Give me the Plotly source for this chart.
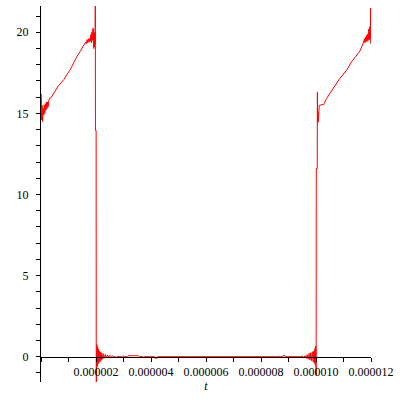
import plotly.graph_objects as go

# time in microseconds
seg1_t = [0.01, 0.02, 0.04, 0.06, 0.08, 0.10, 0.12, 0.14, 0.16, 0.18, 0.20, 0.22, 0.24, 0.26, 0.28, 0.30]
seg1_v = [16.2, 14.6, 15.5, 14.5, 15.3, 14.9, 15.5, 15.0, 15.6, 15.2, 15.7, 15.3, 15.7, 15.4, 15.75, 15.9]

rise1_t = [0.36, 0.63, 0.84, 0.93, 1.06, 1.18, 1.30, 1.42, 1.54, 1.60]
rise1_v = [15.95, 16.69, 17.10, 17.37, 17.68, 18.09, 18.50, 18.80, 19.15, 19.32]

noise1_t = [1.62, 1.65, 1.68, 1.70, 1.73, 1.75, 1.77, 1.79, 1.81, 1.83, 1.85, 1.87, 1.89, 1.90, 1.91, 1.92, 1.93, 1.94, 1.95, 1.96, 1.97]
noise1_v = [19.40, 19.30, 19.55, 19.35, 19.60, 19.40, 19.60, 19.45, 19.85, 19.35, 20.00, 19.50, 20.25, 19.60, 20.20, 19.00, 20.00, 19.10, 19.90, 19.30, 19.80]

drop1_t = [1.975, 1.98, 2.005, 2.01]
drop1_v = [22.5, 13.95, 13.95, -2.5]

ring1_t = [2.03, 2.045, 2.06, 2.075, 2.09, 2.11, 2.13, 2.15, 2.17, 2.19, 2.21, 2.24, 2.27, 2.30, 2.34, 2.38, 2.42, 2.46, 2.50, 2.55, 2.60, 2.66]
ring1_v = [0.75, -0.6, 0.6, -0.45, 0.45, -0.35, 0.35, -0.3, 0.28, -0.22, 0.22, -0.15, 0.18, -0.1, 0.14, -0.06, 0.1, -0.03, 0.08, 0.02, 0.05, 0.0]

flat_t = [2.70, 2.73, 2.76, 2.95, 2.98, 3.02, 3.15, 3.18, 3.55, 3.58, 3.70, 3.73, 3.76, 4.12, 4.14, 4.22, 4.24, 8.78, 8.80, 8.88, 8.90, 9.45]
flat_v = [0.0, -0.08, 0.0, 0.0, 0.06, 0.0, 0.0, 0.06, 0.06, 0.0, 0.0, -0.06, 0.0, 0.0, -0.09, -0.09, 0.0, 0.0, 0.06, 0.06, 0.0, 0.0]

ring2_t = [9.50, 9.55, 9.60, 9.64, 9.68, 9.72, 9.75, 9.78, 9.81, 9.84, 9.87, 9.90, 9.92, 9.94, 9.96, 9.975, 9.99]
ring2_v = [0.04, -0.08, 0.06, -0.1, 0.12, -0.15, 0.2, -0.2, 0.25, -0.25, 0.3, -0.32, 0.35, -0.4, 0.5, -0.5, 0.66]

jump2_t = [10.005, 10.01, 10.045, 10.05, 10.06, 10.07, 10.085, 10.10, 10.12]
jump2_v = [-1.15, 11.6, 11.6, 16.3, 14.4, 15.1, 14.5, 15.0, 15.5]

rise2_t = [10.28, 10.30, 10.39, 10.63, 10.87, 11.12, 11.30, 11.42, 11.60, 11.72]
rise2_v = [15.55, 15.62, 15.93, 16.55, 17.16, 17.68, 18.19, 18.45, 18.85, 19.35]

noise2_t = [11.76, 11.78, 11.80, 11.82, 11.84, 11.86, 11.88, 11.90, 11.92, 11.94, 11.96, 11.975, 11.985, 11.99]
noise2_v = [19.6, 19.35, 19.7, 19.4, 19.8, 19.45, 19.9, 19.5, 20.2, 19.55, 20.35, 19.6, 21.5, 19.3]

x_tickvals = [2, 4, 6, 8, 10, 12]
x_ticktext = ["0.000002", "0.000004", "0.000006", "0.000008", "0.000010", "0.000012"]
y_tickvals = [0, 5, 10, 15, 20]

t_all = seg1_t + rise1_t + noise1_t + drop1_t + ring1_t + flat_t + ring2_t + jump2_t + rise2_t + noise2_t
v_all = seg1_v + rise1_v + noise1_v + drop1_v + ring1_v + flat_v + ring2_v + jump2_v + rise2_v + noise2_v

y_min, y_max = -1.56, 21.62
x_min, x_max = 0, 12

fig = go.Figure()
fig.add_trace(go.Scatter(x=t_all, y=v_all, mode="lines",
                         line=dict(color="#ff0000", width=1, simplify=False),
                         showlegend=False, hoverinfo="skip"))

font = dict(family="Liberation Serif, Times New Roman, serif", size=12, color="black")

fig.update_layout(
    width=400, height=400,
    margin=dict(l=41, r=29, t=6, b=18, autoexpand=False),
    paper_bgcolor="white", plot_bgcolor="white",
    font=font,
    xaxis=dict(range=[x_min, x_max], showgrid=False, zeroline=False, automargin=False,
               showline=True, linecolor="black", linewidth=1,
               anchor="free", position=(0 - y_min) / (y_max - y_min),
               tickmode="array", tickvals=x_tickvals, ticktext=x_ticktext,
               ticks="outside", ticklen=4, tickcolor="black", tickwidth=1,
               minor=dict(tickmode="linear", tick0=0, dtick=1, ticks="outside",
                          ticklen=4, tickcolor="black", tickwidth=1, showgrid=False),
               tickfont=font,
               title=dict(text="<i>t</i>", font=font, standoff=2)),
    yaxis=dict(range=[y_min, y_max], showgrid=False, zeroline=False, automargin=False,
               showline=True, linecolor="black", linewidth=1,
               tickmode="array", tickvals=y_tickvals,
               ticks="outside", ticklen=4, tickcolor="black", tickwidth=1,
               minor=dict(tickmode="linear", tick0=0, dtick=1, ticks="outside",
                          ticklen=4, tickcolor="black", tickwidth=1, showgrid=False),
               tickfont=font, ticklabelstandoff=5),
)

fig.write_html("out.html", config={"displayModeBar": False},
               post_script="document.body.style.margin='0';")
